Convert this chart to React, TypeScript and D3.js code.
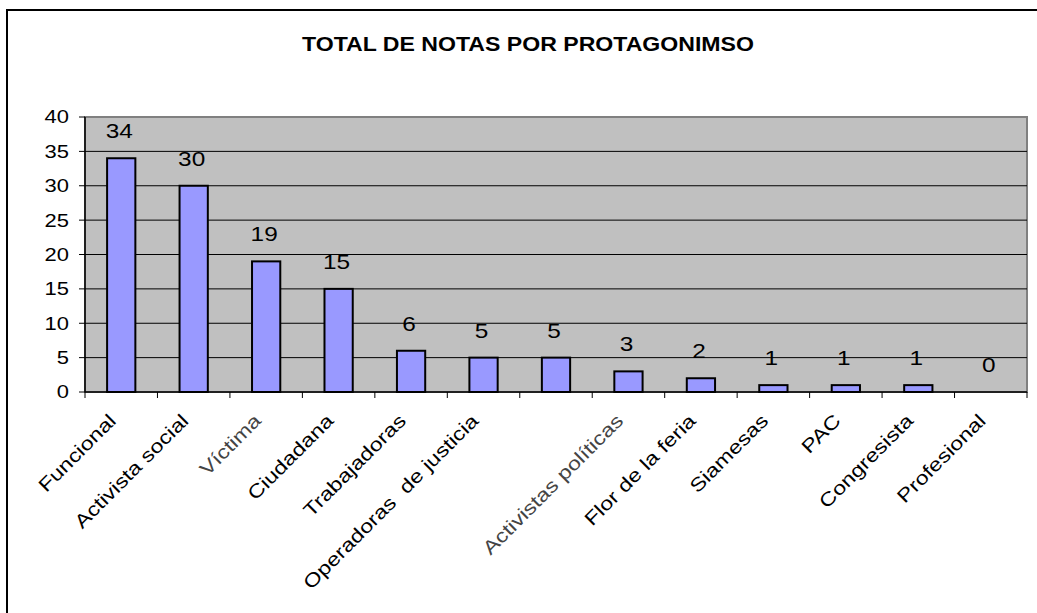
import React from 'react';
import * as d3 from 'd3';

const categories = [
  'Funcional', 'Activista social', 'Víctima', 'Ciudadana', 'Trabajadoras',
  'Operadoras  de justicia', '', 'Activistas políticas', 'Flor de la feria',
  'Siamesas', 'PAC', 'Congresista', 'Profesional',
];
const values = [34, 30, 19, 15, 6, 5, 5, 3, 2, 1, 1, 1, 0];
const yTicks = [0, 5, 10, 15, 20, 25, 30, 35, 40];
// these two labels are smudged in the source picture
const blurredLabels = ['Víctima', 'Activistas políticas'];

const W = 1037;
const H = 613;
const plot = { left: 85, top: 117, right: 1027, bottom: 392 };
const font = '"Liberation Sans", Arial, sans-serif';
// the source text is drawn a bit wider than plain Arial
const stretch = 'scale(1.22,1)';

const App: React.FC = () => {
  const idx = categories.map((_, i) => String(i));
  const x = d3.scaleBand<string>()
    .domain(idx)
    .range([plot.left, plot.right])
    .paddingInner(0.61)
    .paddingOuter(0.305);
  const step = (plot.right - plot.left) / categories.length;
  const y = d3.scaleLinear().domain([0, 40]).range([plot.bottom, plot.top]);
  const center = (i: number) => (x(String(i)) || 0) + x.bandwidth() / 2;

  return (
    <div style={{ position: 'absolute', left: 0, top: 0 }}>
      <svg width={W} height={H} style={{ display: 'block', background: '#fff' }}>
        {/* outer chart border */}
        <rect x={7} y={10} width={W + 20} height={H + 20} fill="#fff" stroke="#000" strokeWidth={2} />

        <text transform="translate(528,51) scale(1.1,1)" textAnchor="middle" fontFamily={font}
          fontSize={21} fontWeight="bold">
          TOTAL DE NOTAS POR PROTAGONIMSO
        </text>

        {/* plot area */}
        <rect x={plot.left} y={plot.top} width={plot.right - plot.left} height={plot.bottom - plot.top}
          fill="#C0C0C0" stroke="#808080" strokeWidth={2} />

        {yTicks.filter(t => t > 0 && t < 40).map(t => (
          <line key={t} x1={plot.left} x2={plot.right} y1={y(t)} y2={y(t)} stroke="#000" strokeWidth={1} />
        ))}

        {values.map((v, i) => (
          <rect key={i} x={x(String(i))} y={y(v)} width={x.bandwidth()} height={plot.bottom - y(v)}
            fill="#9999FF" stroke="#000" strokeWidth={2} />
        ))}

        {/* axes */}
        <line x1={plot.left} x2={plot.left} y1={plot.top} y2={plot.bottom} stroke="#000" strokeWidth={1.5} />
        <line x1={plot.left} x2={plot.right} y1={plot.bottom} y2={plot.bottom} stroke="#000" strokeWidth={1.5} />

        {yTicks.map(t => (
          <g key={t}>
            <line x1={plot.left - 6} x2={plot.left} y1={y(t)} y2={y(t)} stroke="#000" strokeWidth={1} />
            <text transform={`translate(${plot.left - 16},${y(t)}) ${stretch}`} dy="0.36em"
              textAnchor="end" fontFamily={font} fontSize={18}>
              {t}
            </text>
          </g>
        ))}

        {d3.range(categories.length + 1).map(i => (
          <line key={i} x1={plot.left + i * step} x2={plot.left + i * step} y1={plot.bottom}
            y2={plot.bottom + 6} stroke="#000" strokeWidth={1} />
        ))}

        {values.map((v, i) => (
          <text key={i} transform={`translate(${center(i) - 2},${y(v) - 20}) ${stretch}`}
            textAnchor="middle" fontFamily={font} fontSize={20}>
            {v}
          </text>
        ))}

        {categories.map((c, i) => (
          <text key={i} transform={`translate(${center(i) - 4},${plot.bottom + 30}) rotate(-45) ${stretch}`}
            textAnchor="end" fontFamily={font} fontSize={19} style={{ whiteSpace: 'pre' }}
            fill={blurredLabels.includes(c) ? '#444' : '#000'}>
            {c}
          </text>
        ))}
      </svg>
    </div>
  );
};

export default App;
